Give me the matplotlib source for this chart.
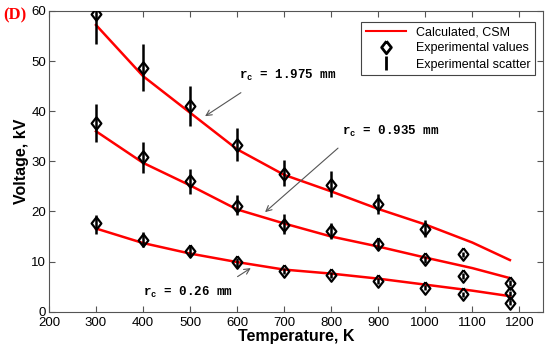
import numpy as np
import matplotlib.pyplot as plt

# ---------------- data ----------------
# calculated curves (CSM)
T_calc = [300, 400, 500, 600, 700, 800, 900, 1000, 1100, 1180]
V_calc_1975 = [57.2, 47.0, 39.7, 32.4, 27.3, 24.0, 20.5, 17.4, 13.8, 10.3]
V_calc_0935 = [36.0, 29.7, 25.2, 20.4, 17.6, 15.0, 13.0, 10.8, 8.7, 6.7]
V_calc_026 = [16.6, 13.7, 11.6, 9.9, 8.4, 7.6, 6.6, 5.4, 4.2, 3.1]

# experimental values with scatter (low / high)
T_1975 = [300, 400, 500, 600, 700, 800, 900, 1000, 1080]
V_1975 = [59.3, 48.6, 41.0, 33.3, 27.4, 25.2, 21.4, 16.4, 11.5]
lo_1975 = [53.5, 44.0, 37.0, 30.0, 25.0, 22.8, 19.4, 14.9, 11.0]
hi_1975 = [60.5, 53.5, 45.0, 36.6, 30.3, 28.0, 23.5, 18.2, 12.0]

T_0935 = [300, 400, 500, 600, 700, 800, 900, 1000, 1080, 1180]
V_0935 = [37.6, 30.9, 26.0, 21.1, 17.3, 16.0, 13.6, 10.5, 7.2, 5.8]
lo_0935 = [33.8, 27.7, 23.5, 19.2, 15.6, 14.6, 12.6, 9.8, 6.6, 5.2]
hi_0935 = [41.4, 33.8, 28.5, 23.2, 19.4, 17.6, 14.8, 11.2, 7.8, 6.4]

T_026 = [300, 400, 500, 600, 700, 800, 900, 1000, 1080, 1180, 1180]
V_026 = [17.6, 14.4, 12.1, 9.9, 8.2, 7.4, 6.2, 4.8, 3.5, 3.7, 1.8]
lo_026 = [15.6, 13.0, 11.0, 9.0, 7.6, 6.8, 5.6, 4.3, 3.0, 3.2, 1.3]
hi_026 = [19.3, 15.8, 13.2, 10.7, 8.8, 8.0, 6.8, 5.3, 4.0, 4.2, 2.3]

plt.rcParams['font.family'] = 'Liberation Sans'
plt.rcParams['mathtext.fontset'] = 'custom'
plt.rcParams['mathtext.rm'] = 'Liberation Mono:bold'

# diamond a bit taller than wide
diamond = [(0, 1), (0.78, 0), (0, -1), (-0.78, 0), (0, 1)]

fig = plt.figure(figsize=(5.5, 3.53), dpi=100)
ax = fig.add_axes([0.089, 0.117, 0.898, 0.852])

for Tc, Vc in [(T_calc, V_calc_1975), (T_calc, V_calc_0935), (T_calc, V_calc_026)]:
    ax.plot(Tc, Vc, color='red', lw=1.8, zorder=3)

for T, V, lo, hi in [(T_1975, V_1975, lo_1975, hi_1975),
                     (T_0935, V_0935, lo_0935, hi_0935),
                     (T_026, V_026, lo_026, hi_026)]:
    V = np.array(V)
    yerr = [V - np.array(lo), np.array(hi) - V]
    ax.errorbar(T, V, yerr=yerr, fmt='none', ecolor='black', elinewidth=1.8,
                capsize=0, zorder=4)
    ax.plot(T, V, marker=diamond, ls='none', ms=9, mfc='none', mec='black',
            mew=1.6, zorder=5)

# legend handles
h1, = ax.plot([], [], color='red', lw=1.5, label='Calculated, CSM')
h2, = ax.plot([], [], marker=diamond, ls='none', ms=9, mfc='none', mec='black',
              mew=2, label='Experimental values')
h3, = ax.plot([], [], '|', ms=10, mec='black', mew=2, label='Experimental scatter')
leg = ax.legend(handles=[h1, h2, h3], loc='upper right', fontsize=9,
                fancybox=False, framealpha=1, borderpad=0.35, labelspacing=0.35,
                handlelength=3.2, bbox_to_anchor=(0.996, 0.985))
leg.get_frame().set_edgecolor('#444444')
leg.get_frame().set_linewidth(0.8)

# annotations
mono = dict(family='Liberation Mono', fontsize=9, fontweight='bold')
arrow = dict(arrowstyle='->', color='#555555', lw=0.8)
ax.annotate('', xy=(527, 38.7), xytext=(613, 44), arrowprops=arrow)
ax.text(605, 47.1, r'r$_\mathrm{c}$ = 1.975 mm', va='center', **mono)
ax.annotate('', xy=(655, 19.5), xytext=(819, 33), arrowprops=arrow)
ax.text(822, 36.0, r'r$_\mathrm{c}$ = 0.935 mm', va='center', **mono)
ax.annotate('', xy=(634, 9.0), xytext=(596, 6.7), arrowprops=arrow)
ax.text(400, 3.9, r'r$_\mathrm{c}$ = 0.26 mm', va='center', **mono)

ax.set_xlim(200, 1250)
ax.set_ylim(0, 60)
ax.set_xticks(range(200, 1201, 100))
ax.set_yticks(range(0, 61, 10))
ax.tick_params(direction='in', top=True, right=True, length=4, width=0.8,
               color='#555555', labelsize=9.5, pad=2)
ax.tick_params(axis='x', pad=4)
for lbl in ax.get_yticklabels():
    lbl.set_va('center_baseline')
for s in ax.spines.values():
    s.set_color('#555555')
    s.set_linewidth(0.8)

ax.set_xlabel('Temperature, K', fontsize=11.5, fontweight='bold', labelpad=0)
ax.set_ylabel('Voltage, kV', fontsize=11.5, fontweight='bold', labelpad=2)

fig.text(0.006, 0.955, '(D)', color='red', fontsize=12, fontweight='bold',
         family='Liberation Serif', va='center')

fig.savefig('out.png', dpi=100)
